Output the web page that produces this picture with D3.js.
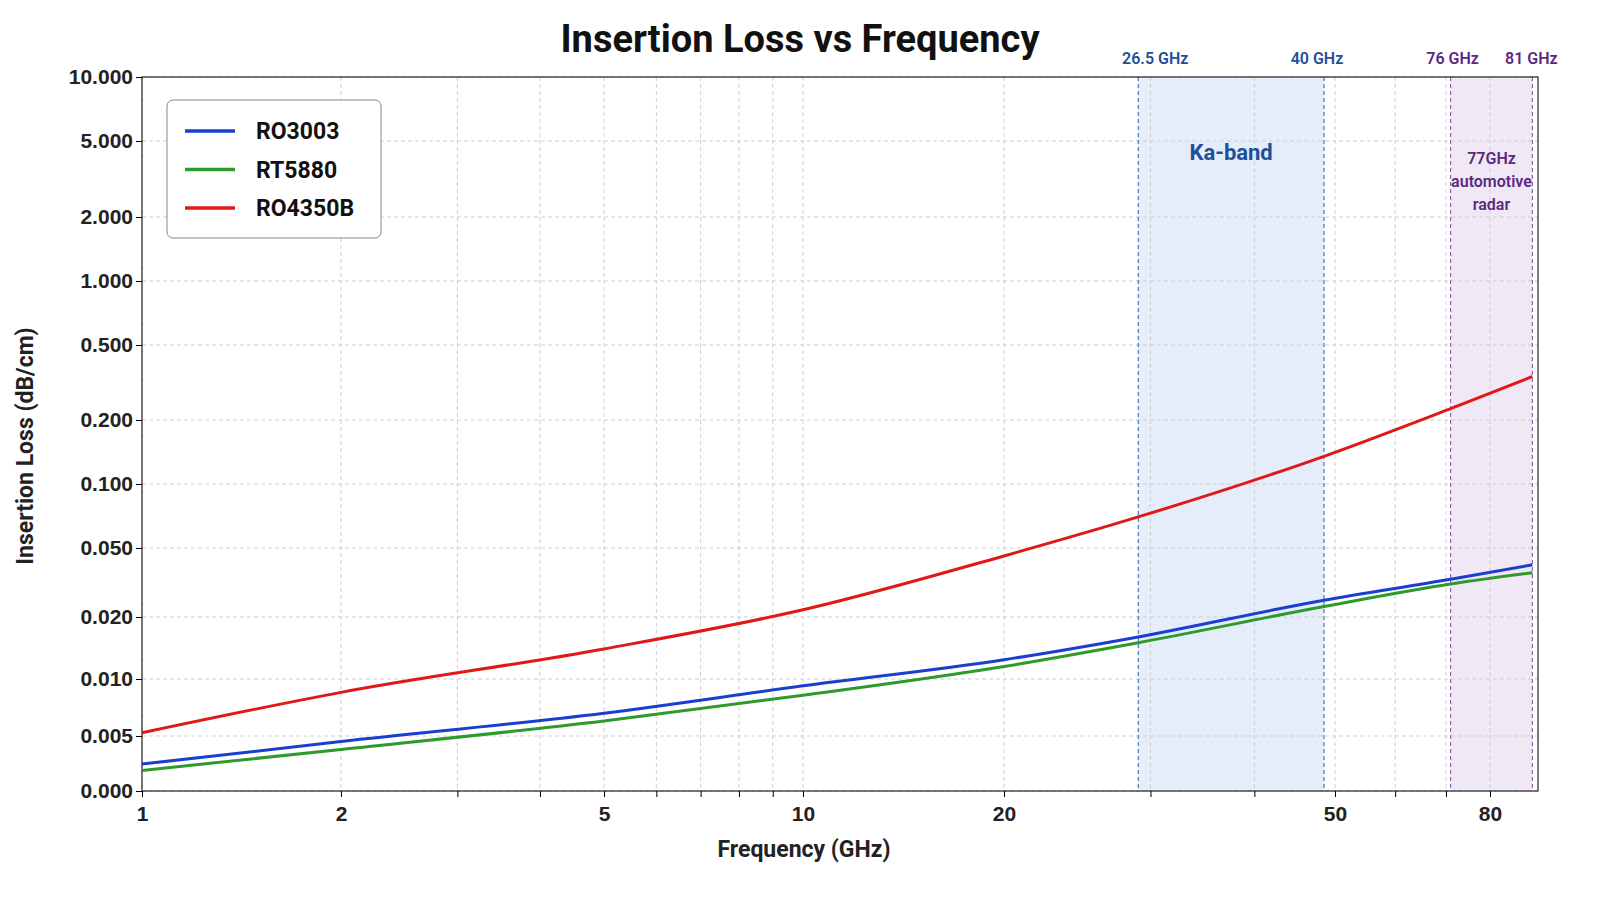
<!DOCTYPE html>
<html><head><meta charset="utf-8">
<script src="https://cdn.jsdelivr.net/npm/d3@7"></script>
<style>body{margin:0;background:#fff;font-family:Roboto,"Liberation Sans",sans-serif}</style>
</head><body><svg id="c" width="1600" height="900"></svg>
<script>
// Data
const freqs = [1, 2, 5, 10, 20, 29, 48.5, 71, 90.5];
const ro3003 = [0.00365, 0.0047, 0.0066, 0.0092, 0.0124, 0.016, 0.025, 0.033, 0.040];
const rt5880 = [0.0034, 0.0043, 0.0060, 0.0082, 0.0115, 0.015, 0.023, 0.031, 0.036];
const ro4350b = [0.0052, 0.0085, 0.014, 0.022, 0.045, 0.07, 0.135, 0.23, 0.34];
const seriesNames = ["RO3003", "RT5880", "RO4350B"];
const seriesColors = ["#1a3fd0", "#2e9a2e", "#e01818"];
const yTickValues = [0.0027, 0.005, 0.01, 0.02, 0.05, 0.1, 0.2, 0.5, 1, 2, 5, 10];
const yTickLabels = ["0.000","0.005","0.010","0.020","0.050","0.100","0.200","0.500","1.000","2.000","5.000","10.000"];
const xTickValues = [1, 2, 5, 10, 20, 50, 80];
const xGridValues = [1,2,3,4,5,6,7,8,9,10,20,30,40,50,60,70,80];
const bands = [
  {x0: 29, x1: 48.5, l0: "26.5 GHz", l1: "40 GHz", o0: 17, o1: -7, name: ["Ka-band"], fill: "#dde9f7", stroke: "#2a5aa8", color: "#1f4f99"},
  {x0: 71, x1: 90.5, l0: "76 GHz", l1: "81 GHz", o0: 2, o1: -1, name: ["77GHz","automotive","radar"], fill: "#ece2f3", stroke: "#7a4aa0", color: "#5a2a80"}
];

const svg = d3.select("#c");
const L = 142, R = 1538, T = 77, B = 791;
const x = d3.scaleLog().domain([1, 10, 20, 50, 80, 92]).range([142, 803, 1004, 1335, 1490, 1538]);
const y = d3.scaleLog().domain(yTickValues).range([791, 736, 679, 617, 548, 484, 420, 345, 281, 217, 141, 77]);

bands.forEach(b => {
  svg.append("rect").attr("x", x(b.x0)).attr("y", T).attr("width", x(b.x1) - x(b.x0)).attr("height", B - T)
    .attr("fill", b.fill).attr("opacity", 0.8);
});

const g = svg.append("g");
g.selectAll(".vg").data(xGridValues).join("line").attr("x1", d => x(d)).attr("x2", d => x(d))
  .attr("y1", T).attr("y2", B).attr("stroke", "#cfcfcf").attr("stroke-dasharray", "4,3");
g.selectAll(".hg").data(yTickValues).join("line").attr("x1", L).attr("x2", R)
  .attr("y1", d => y(d)).attr("y2", d => y(d)).attr("stroke", "#cfcfcf").attr("stroke-dasharray", "4,3");

bands.forEach(b => {
  [[b.x0, b.l0, b.o0], [b.x1, b.l1, b.o1]].forEach(([v, l, o]) => {
    svg.append("line").attr("x1", x(v)).attr("x2", x(v)).attr("y1", T).attr("y2", B)
      .attr("stroke", b.stroke).attr("stroke-dasharray", "4,3").attr("stroke-width", 1);
    svg.append("text").attr("x", x(v) + o).attr("y", 64).attr("text-anchor", "middle")
      .attr("font-size", 16).attr("font-weight", 600).attr("fill", b.color).text(l);
  });
  const cx = (x(b.x0) + x(b.x1)) / 2;
  if (b.name.length === 1) {
    svg.append("text").attr("x", cx).attr("y", 160).attr("text-anchor", "middle").attr("font-size", 22)
      .attr("font-weight", 700).attr("fill", b.color).text(b.name[0]);
  } else {
    b.name.forEach((t, i) => svg.append("text").attr("x", cx).attr("y", 164 + i * 23).attr("text-anchor", "middle")
      .attr("font-size", 16).attr("font-weight", 600).attr("fill", b.color).text(t));
  }
});

svg.append("rect").attr("x", L).attr("y", T).attr("width", R - L).attr("height", B - T)
  .attr("fill", "none").attr("stroke", "#222").attr("stroke-width", 1.2);

const xa = svg.append("g").attr("transform", `translate(0,${B})`)
  .call(d3.axisBottom(x).tickValues(xGridValues).tickFormat(d => xTickValues.includes(d) ? d : "").tickSize(6));
xa.select(".domain").remove();
xa.selectAll("text").attr("font-size", 21).attr("font-weight", 600).attr("dy", "1em").attr("fill", "#222");
const ya = svg.append("g").attr("transform", `translate(${L},0)`)
  .call(d3.axisLeft(y).tickValues(yTickValues).tickFormat((d, i) => yTickLabels[i]).tickSize(6));
ya.select(".domain").remove();
ya.selectAll("text").attr("font-size", 21).attr("font-weight", 600).attr("fill", "#222");

const line = d3.line().x((d, i) => x(freqs[i])).y(d => y(d)).curve(d3.curveMonotoneX);
[ro3003, rt5880, ro4350b].forEach((s, i) => {
  svg.append("path").attr("d", line(s)).attr("fill", "none").attr("stroke", seriesColors[i]).attr("stroke-width", 3);
});

svg.append("rect").attr("x", 167).attr("y", 100).attr("width", 214).attr("height", 138).attr("rx", 6)
  .attr("fill", "#fff").attr("stroke", "#888");
seriesNames.forEach((n, i) => {
  const yy = 131 + i * 38.5;
  svg.append("line").attr("x1", 185).attr("x2", 235).attr("y1", yy).attr("y2", yy)
    .attr("stroke", seriesColors[i]).attr("stroke-width", 3.5);
  svg.append("text").attr("x", 256).attr("y", yy + 8).attr("font-size", 23).attr("font-weight", 700)
    .attr("fill", "#111").text(n);
});

svg.append("text").attr("x", 800).attr("y", 52).attr("text-anchor", "middle").attr("font-size", 38)
  .attr("font-weight", 700).attr("fill", "#111").text("Insertion Loss vs Frequency");
svg.append("text").attr("x", 804).attr("y", 857).attr("text-anchor", "middle").attr("font-size", 23)
  .attr("font-weight", 700).attr("fill", "#222").text("Frequency (GHz)");
svg.append("text").attr("transform", "translate(33,446) rotate(-90)").attr("text-anchor", "middle")
  .attr("font-size", 23).attr("font-weight", 700).attr("fill", "#222").text("Insertion Loss (dB/cm)");
</script></body></html>
